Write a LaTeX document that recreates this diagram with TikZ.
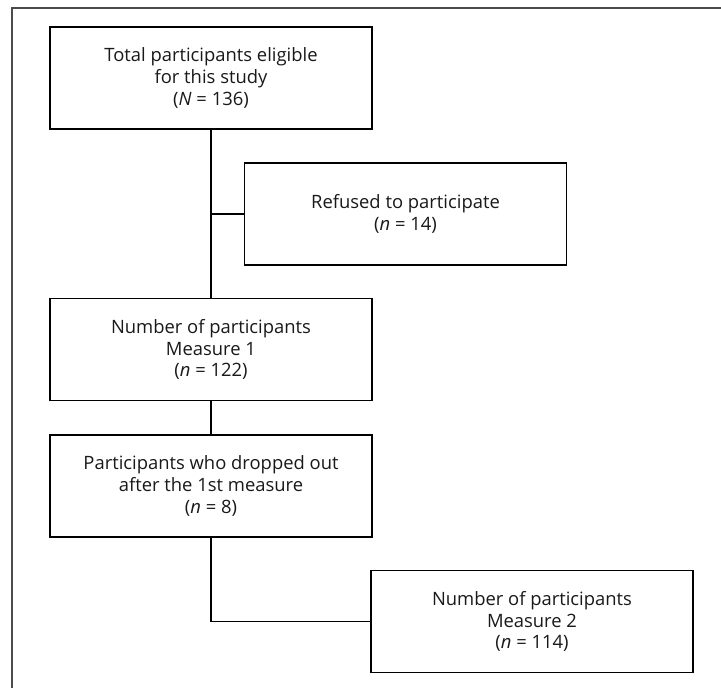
\documentclass[tikz,border=0pt]{standalone}
\usepackage{fontspec}
\setmainfont{Open Sans}
\tikzset{>=stealth}
\tikzset{flowbox/.style={draw, line width=0.9pt, minimum width=241.5pt, minimum height=76.5pt, align=center, inner sep=2pt, font=\fontsize{13.8}{16.2}\selectfont, text=black!90}}
\begin{document}
\begin{tikzpicture}[x=0.75pt, y=-0.75pt]
\useasboundingbox (0,0) rectangle (721,688);
\draw[line width=1.4pt, black!70] (12,688) -- (12,8) -- (721,8);
\node[flowbox] (total) at (211,78) {Total participants eligible\\for this study\\(\textit{N} = 136)};
\node[flowbox] (refused) at (405.5,214) {Refused to participate\\(\textit{n} = 14)};
\node[flowbox] (meas1) at (211,349.5) {Number of participants\\Measure 1\\(\textit{n} = 122)};
\node[flowbox] (drop) at (211,486) {Participants who dropped out\\after the 1st measure\\(\textit{n} = 8)};
\node[flowbox] (meas2) at (532,621.5) {Number of participants\\Measure 2\\(\textit{n} = 114)};
\draw[line width=0.9pt] (total) -- (meas1);
\draw[line width=0.9pt] (total.south |- refused.west) -- (refused.west);
\draw[line width=0.9pt] (meas1) -- (drop);
\draw[line width=0.9pt] (drop.south) |- (meas2.west);
\end{tikzpicture}
\end{document}
